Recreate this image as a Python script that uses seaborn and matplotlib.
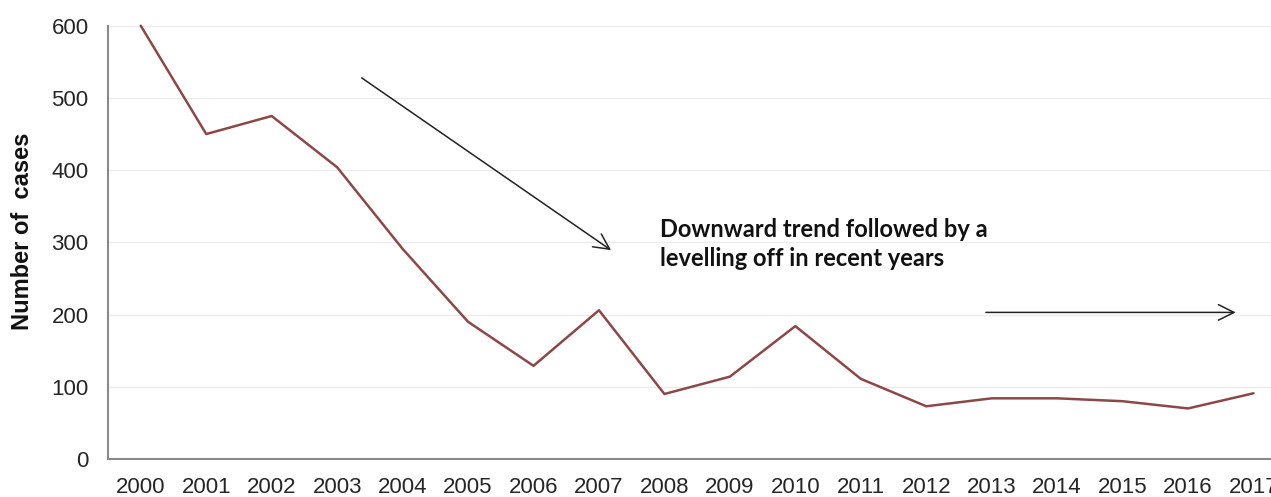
import matplotlib
matplotlib.use("Agg")
import matplotlib.pyplot as plt
from matplotlib.ticker import FixedLocator
import seaborn as sns
import pandas as pd

years = [2000, 2001, 2002, 2003, 2004, 2005, 2006, 2007, 2008,
         2009, 2010, 2011, 2012, 2013, 2014, 2015, 2016, 2017]
cases = [600, 450, 475, 404, 291, 190, 129, 206, 90,
         114, 184, 111, 73, 84, 84, 80, 70, 91]
y_ticks = [0, 100, 200, 300, 400, 500, 600]
note = "Downward trend followed by a\nlevelling off in recent years"
y_title = "Number of  cases"

df = pd.DataFrame({"year": years, "cases": cases})

sns.set_style("white")
plt.rcParams["font.family"] = ["Liberation Sans", "DejaVu Sans"]

fig = plt.figure(figsize=(12.71, 4.97), dpi=100)
ax = fig.add_axes([0.085, 0.0765, 0.927, 0.8717])

sns.lineplot(data=df, x="year", y="cases", ax=ax, color="#8c4848",
             linewidth=1.8, clip_on=False)

ax.set_xlim(years[0] - 0.5, years[-1] + 0.5)
ax.set_ylim(0, 600)
ax.set_yticks(y_ticks)
ax.set_xticks(years)
ax.set_xticklabels([str(y) for y in years])
ax.xaxis.set_minor_locator(FixedLocator([y - 0.5 for y in years] + [years[-1] + 0.5]))

ax.grid(axis="y", color="#ececec", linewidth=1.0)
ax.set_axisbelow(True)
for side in ("top", "right"):
    ax.spines[side].set_visible(False)
for side in ("left", "bottom"):
    ax.spines[side].set_color("#8a8a8a")
    ax.spines[side].set_linewidth(1.5)

ax.tick_params(axis="x", which="major", length=0, pad=13, labelsize=16, labelcolor="#262626")
ax.tick_params(axis="x", which="minor", length=7, width=1.2, color="#8a8a8a", direction="out")
ax.tick_params(axis="y", length=8, width=1.2, color="#8a8a8a", direction="out",
               labelsize=16, labelcolor="#262626", pad=6)

ax.set_xlabel("")
ax.set_ylabel(y_title, fontsize=17, fontweight="bold", color="#111111")
ax.yaxis.set_label_coords(-0.063, 0.526)

arrow_style = dict(arrowstyle="->", color="#222222", lw=1.1, mutation_scale=28)
ax.annotate("", xy=(2007.22, 287), xytext=(2003.34, 530), arrowprops=arrow_style)
ax.annotate("", xy=(2016.77, 203), xytext=(2012.87, 203), arrowprops=arrow_style)

ax.text(2007.94, 334, note, fontsize=17, fontweight="bold", family=["Lato", "DejaVu Sans"],
        color="#111111", va="top", ha="left", linespacing=1.3)

fig.savefig("out.png", dpi=100)
